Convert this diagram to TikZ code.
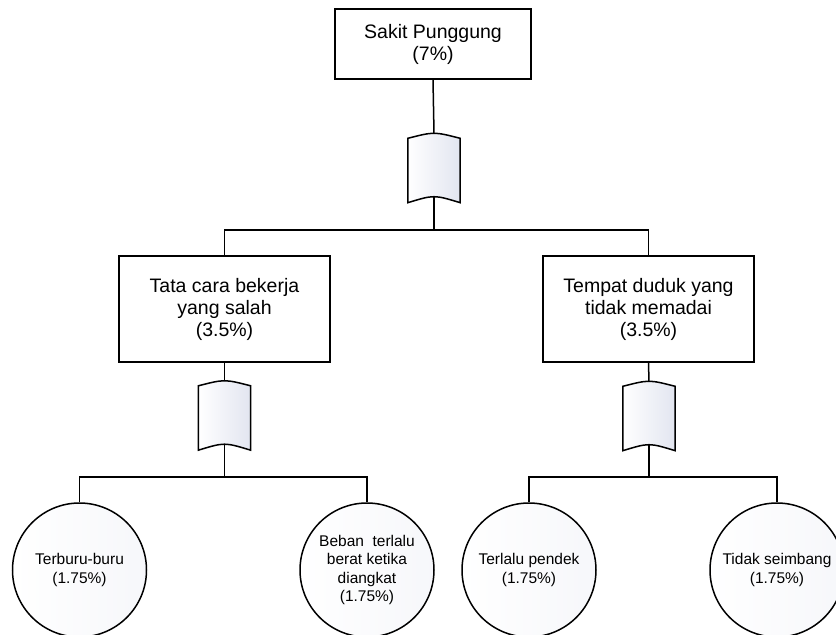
\documentclass[tikz,border=0pt]{standalone}
\usepackage{fontspec}
\setmainfont{Liberation Sans}
\definecolor{gateblue}{RGB}{226,229,240}

% gate with curved top and bottom, drawn round an empty node
\newcommand{\drawgate}[1]{%
    \draw[gateline, left color=white, right color=gateblue]
        ([yshift=-5pt]#1.north west) .. controls ([yshift=1.7pt]#1.north) .. ([yshift=-5pt]#1.north east)
        -- ([yshift=-6pt]#1.south east) .. controls ([yshift=2pt]#1.south) .. ([yshift=-6pt]#1.south west)
        -- cycle;
}

\begin{document}
\begin{tikzpicture}[x=1pt, y=-1pt,
    event/.style={draw, fill=white, line width=1.5pt, align=center, inner sep=0pt,
        font=\fontsize{19.5}{22}\selectfont},
    basic/.style={draw, circle, left color=white, right color=gateblue!30!white, line width=1.5pt,
        minimum size=134pt, align=center, inner sep=0pt, font=\fontsize{15.5}{18.5}\selectfont},
    gatebox/.style={minimum width=52pt, minimum height=63pt, inner sep=0pt},
    gateline/.style={line width=1.5pt},
    link/.style={line width=1.5pt}]
    \useasboundingbox (0,0) rectangle (836,635);
    \clip (0,0) rectangle (836,635);

    % top event
    \node[event, minimum width=196pt, minimum height=70pt] (top) at (433,44)
        {Sakit Punggung\\(7\%)};
    \node[gatebox] (g0) at (434,165) {};

    % intermediate events
    \node[event, minimum width=211pt, minimum height=106pt] (left) at (224.5,309)
        {Tata cara bekerja\\yang salah\\(3.5\%)};
    \node[event, minimum width=211pt, minimum height=106pt] (right) at (648.5,309)
        {Tempat duduk yang\\tidak memadai\\(3.5\%)};
    \node[gatebox] (g1) at (224.5,412.5) {};
    \node[gatebox] (g2) at (649,413) {};

    % junctions
    \coordinate (j0) at (434,230);
    \coordinate (j1) at (224.5,477);
    \coordinate (j2) at (649,477);

    % basic events
    \node[basic] (b1) at (79.5,570) {Terburu-buru\\(1.75\%)};
    \node[basic] (b2) at (367,570) {Beban~~terlalu\\berat ketika\\diangkat\\(1.75\%)};
    \node[basic] (b3) at (529,570) {Terlalu pendek\\(1.75\%)};
    \node[basic] (b4) at (777,570) {Tidak seimbang\\(1.75\%)};

    % connectors
    \draw[link] (top.south) -- (g0.north);
    \draw[link] (g0.south) -- (j0);
    \draw[link] (left.north) |- (j0) -| (right.north);
    \draw[link] (left.south) -- (g1.north);
    \draw[link] (right.south) -- (g2.north);
    \draw[link] (g1.south) -- (j1);
    \draw[link] (g2.south) -- (j2);
    \draw[link] (b1.north) |- (j1) -| (b2.north);
    \draw[link] (b3.north) |- (j2) -| (b4.north);

    % gate outlines
    \drawgate{g0}
    \drawgate{g1}
    \drawgate{g2}
\end{tikzpicture}
\end{document}
